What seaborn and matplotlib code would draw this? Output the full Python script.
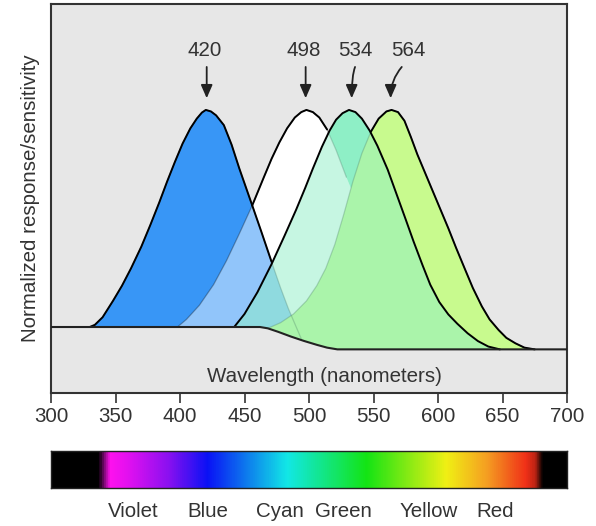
import numpy as np
import matplotlib
matplotlib.use("Agg")
import matplotlib.pyplot as plt
from matplotlib.colors import LinearSegmentedColormap
import seaborn as sns

# Values (x = wavelength nm, y = relative response,
# 0 = upper baseline, 1 = peak height)
blue_wl = [330, 334, 340, 348, 355, 362, 370, 377, 384, 390, 396, 402, 408, 413, 417, 420,
           424, 428, 434, 440, 446, 451, 456, 463, 471, 478, 484, 489, 494]
blue_resp = [0, 0.01, 0.045, 0.12, 0.19, 0.27, 0.37, 0.47, 0.575, 0.67, 0.76, 0.845, 0.915, 0.96,
             0.988, 1.0, 0.993, 0.975, 0.93, 0.84, 0.73, 0.645, 0.56, 0.44, 0.30, 0.18, 0.085,
             0.015, -0.054]

rod_wl = [398, 405, 415, 426, 436, 446, 456, 465, 471, 477, 483, 489, 494, 498, 503, 508, 514,
          521, 529, 538, 548, 558, 569, 578, 586, 594, 602]
rod_resp = [0, 0.035, 0.1, 0.195, 0.305, 0.43, 0.56, 0.69, 0.775, 0.85, 0.915, 0.965, 0.99, 1.0,
            0.99, 0.965, 0.91, 0.815, 0.69, 0.56, 0.43, 0.31, 0.19, 0.095, 0.025, -0.045, -0.103]

green_wl = [442, 450, 460, 471, 481, 490, 497, 503, 510, 516, 521, 526, 531, 536, 541, 547, 553,
            561, 568, 575, 581, 588, 594, 601, 608, 615, 623, 631, 639, 648]
green_resp = [0, 0.06, 0.16, 0.29, 0.42, 0.54, 0.64, 0.73, 0.83, 0.905, 0.955, 0.985, 1.0, 0.99,
              0.96, 0.905, 0.835, 0.725, 0.61, 0.495, 0.395, 0.285, 0.195, 0.115, 0.058, 0.015,
              -0.029, -0.065, -0.09, -0.103]

red_wl = [468, 478, 488, 498, 506, 513, 520, 527, 534, 541, 548, 554, 560, 564, 569, 574, 579,
          584, 590, 596, 602, 608, 614, 621, 627, 634, 640, 647, 653, 660, 667, 675]
red_resp = [-0.006, 0.02, 0.06, 0.12, 0.19, 0.27, 0.38, 0.52, 0.67, 0.8, 0.9, 0.96, 0.993, 1.0,
            0.99, 0.95, 0.875, 0.795, 0.71, 0.625, 0.54, 0.455, 0.365, 0.265, 0.18, 0.095, 0.035,
            -0.014, -0.05, -0.075, -0.095, -0.103]

base_wl = [300, 462, 468, 476, 486, 496, 506, 514, 522, 700]
base_resp = [0, 0, -0.006, -0.022, -0.044, -0.064, -0.082, -0.095, -0.103, -0.103]

peak_labels = ["420", "498", "534", "564"]
peak_label_wl = [419.4, 496.1, 535.7, 577.0]
arrow_start_wl = [420.7, 497.4, 535.7, 571.9]
arrow_tip_wl = [420.7, 497.4, 533.1, 563.3]
arrow_bend = [None, None, 70, 50]

xtick_values = [300, 350, 400, 450, 500, 550, 600, 650, 700]

spectrum_wl = [300, 336, 345, 360, 390, 421, 483, 545, 607, 638, 669, 676, 682, 700]
spectrum_colors = ["#000000", "#000000", "#ff12ee", "#e010f0", "#8c10f0", "#0a12f5", "#12e8e6",
                   "#14e414", "#f0f014", "#f5a022", "#f03018", "#c02414", "#000000", "#000000"]

color_names = ["Violet", "Blue", "Cyan", "Green", "Yellow", "Red"]
color_name_wl = [363.8, 421.9, 477.5, 526.6, 592.5, 644.2]

BG = "#e7e7e7"
BLUE = "#3896f6"
MINT = "#8eefc6"
LIME = "#c8fa8e"
TEXT = "#333333"
FS = 14.8
LINE = dict(color="black", lw=1.4, sort=False, solid_joinstyle="round")
FAINT = dict(color="black", lw=0.9, alpha=0.3, sort=False)

sns.set_theme(style="white")
plt.rcParams["font.family"] = ["Liberation Sans", "DejaVu Sans"]


def polygon(wl, resp):
    # curve on top, then back along the baseline under it
    inner = [(w, b) for w, b in zip(base_wl, base_resp) if wl[0] < w < wl[-1]][::-1]
    return list(wl) + [w for w, _ in inner], list(resp) + [b for _, b in inner]


def part(wl, resp, lo, hi):
    keep = [i for i, w in enumerate(wl) if lo <= w <= hi]
    return [wl[i] for i in keep], [resp[i] for i in keep]


fig = plt.figure(figsize=(5.96, 5.26), dpi=100)
ax = fig.add_axes([51 / 596, 1 - 393 / 526, 516 / 596, 389 / 526])
ax.set_facecolor(BG)

bx, by = polygon(blue_wl, blue_resp)
rx, ry = polygon(rod_wl, rod_resp)
gx, gy = polygon(green_wl, green_resp)
lx, ly = polygon(red_wl, red_resp)

# layered fills to mimic the blended look of the original
ax.fill(gx, gy, color=MINT, lw=0, zorder=1)
ax.fill(rx, ry, color="white", lw=0, zorder=3)
ax.fill(bx, by, color=BLUE, lw=0, zorder=4)
ax.fill(rx, ry, color="white", alpha=0.45, lw=0, zorder=5)
ax.fill(lx, ly, color=LIME, lw=0, zorder=5.5)

# faint edges where one curve passes under another
px_, py_ = part(rod_wl, rod_resp, 300, 529)
sns.lineplot(x=px_, y=py_, ax=ax, zorder=5.6, **FAINT)
sns.lineplot(x=blue_wl, y=blue_resp, ax=ax, zorder=5.6, **FAINT)
sns.lineplot(x=red_wl, y=red_resp, ax=ax, zorder=5.6, **FAINT)
ax.fill(gx, gy, color=MINT, alpha=0.5, lw=0, zorder=6)

# solid outlines where each curve is on top
px_, py_ = part(rod_wl, rod_resp, 455, 514)
sns.lineplot(x=px_, y=py_, ax=ax, zorder=7, **LINE)
px_, py_ = part(blue_wl, blue_resp, 300, 471)
sns.lineplot(x=px_, y=py_, ax=ax, zorder=7, **LINE)
px_, py_ = part(red_wl, red_resp, 548, 700)
sns.lineplot(x=px_, y=py_, ax=ax, zorder=7, **LINE)
sns.lineplot(x=green_wl, y=green_resp, ax=ax, zorder=7, **LINE)
sns.lineplot(x=base_wl, y=base_resp, ax=ax, color="#222222", lw=1.5, sort=False, zorder=8)

for lab, lw_, a0, a1, bend in zip(peak_labels, peak_label_wl, arrow_start_wl, arrow_tip_wl, arrow_bend):
    ax.text(lw_, 1.276, lab, ha="center", va="center", fontsize=FS, color=TEXT)
    conn = "arc3,rad=0" if bend is None else f"angle3,angleA={bend},angleB=90"
    ax.annotate("", xy=(a1, 1.054), xytext=(a0, 1.198),
                arrowprops=dict(arrowstyle="-|>,head_length=0.8,head_width=0.35",
                                mutation_scale=10, color="#222222", lw=1.3,
                                shrinkA=0, shrinkB=0, connectionstyle=conn))

ax.text(512, -0.229, "Wavelength (nanometers)", ha="center", va="center",
        fontsize=FS, color=TEXT)

ax.set_xlim(300, 700)
ax.set_ylim(-0.304, 1.488)
ax.set_xticks(xtick_values)
ax.set_yticks([])
ax.tick_params(axis="x", bottom=True, direction="out", length=7, width=1.2,
               colors=TEXT, labelsize=FS, pad=3)
ax.set_xlabel("")
ax.set_ylabel("Normalized response/sensitivity", fontsize=FS, color=TEXT)
ax.yaxis.set_label_coords(-0.022, 0.5)
for sp in ax.spines.values():
    sp.set_color("#333333")
    sp.set_linewidth(1.5)

# spectrum strip
ax2 = fig.add_axes([51 / 596, 1 - 488 / 526, 516 / 596, 37.5 / 526])
cmap = LinearSegmentedColormap.from_list(
    "spectrum", [((w - 300) / 400, c) for w, c in zip(spectrum_wl, spectrum_colors)])
ax2.imshow(np.linspace(0, 1, 800)[None, :], aspect="auto", cmap=cmap,
           extent=(300, 700, 0, 1))
ax2.set_xlim(300, 700)
ax2.set_ylim(0, 1)
ax2.set_xticks([])
ax2.set_yticks([])
for sp in ax2.spines.values():
    sp.set_color("#222222")
    sp.set_linewidth(1.0)
for name, w in zip(color_names, color_name_wl):
    ax2.text(w, -0.63, name, ha="center", va="center", fontsize=FS, color=TEXT, clip_on=False)

fig.savefig("out.png", dpi=100, facecolor="white")
